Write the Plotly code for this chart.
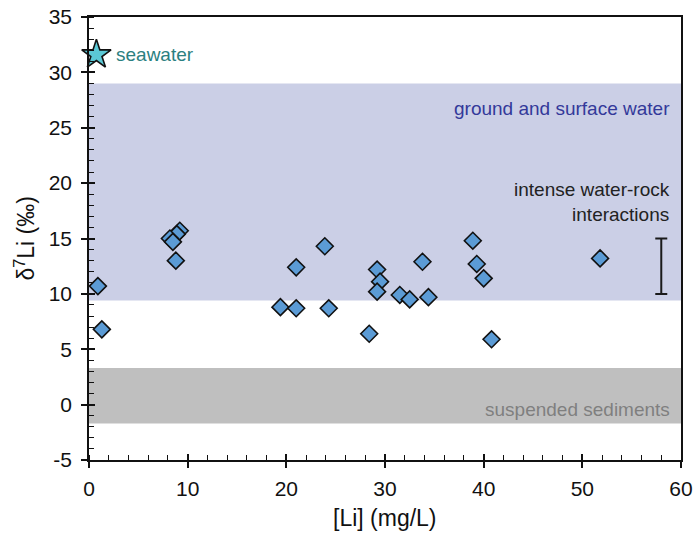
import plotly.graph_objects as go

# Sample data: [Li] (mg/L) and δ7Li (‰)
li_conc = [0.9, 1.3, 9.2, 8.9, 8.2, 8.5, 8.8, 19.4, 21.0, 21.0, 23.9, 24.3,
           28.4, 29.2, 29.5, 29.2, 31.5, 32.5, 33.8, 34.4, 38.9, 39.3, 40.0,
           40.8, 51.8]
d7li = [10.7, 6.8, 15.7, 15.4, 15.0, 14.7, 13.0, 8.8, 8.7, 12.4, 14.3, 8.7,
        6.4, 12.2, 11.1, 10.2, 9.9, 9.5, 12.9, 9.7, 14.8, 12.7, 11.4,
        5.9, 13.2]

# Seawater reference
seawater_x = [0.75]
seawater_y = [31.6]

# Reference ranges (δ7Li)
ground_surface_range = [9.4, 29.0]
suspended_range = [-1.7, 3.3]

# Intense water-rock interactions range
wr_x = [58]
wr_range = [10.0, 15.0]

x_range = [0, 60]
y_range = [-5, 35]
x_tick_vals = [0, 10, 20, 30, 40, 50, 60]
x_tick_text = ["0", "10", "20", "30", "40", "50", "60"]
y_tick_vals = [-5, 0, 5, 10, 15, 20, 25, 30, 35]
y_tick_text = ["-5", "0", "5", "10", "15", "20", "25", "30", "35"]

FONT = "Liberation Sans, Arial, sans-serif"
TICK_SIZE = 21
TITLE_SIZE = 23
ANN_SIZE = 19

fig = go.Figure()

fig.add_shape(type="rect", xref="x", yref="y", x0=x_range[0], x1=x_range[1],
              y0=ground_surface_range[0], y1=ground_surface_range[1],
              fillcolor="#CBCFE6", line_width=0, layer="below")
fig.add_shape(type="rect", xref="x", yref="y", x0=x_range[0], x1=x_range[1],
              y0=suspended_range[0], y1=suspended_range[1],
              fillcolor="#BFBFBF", line_width=0, layer="below")

wr_mid = [(wr_range[0] + wr_range[1]) / 2]
wr_half = [(wr_range[1] - wr_range[0]) / 2]
fig.add_trace(go.Scatter(
    x=wr_x, y=wr_mid, mode="markers",
    marker=dict(size=1, color="rgba(0,0,0,0)"),
    error_y=dict(type="data", array=wr_half, visible=True,
                 color="#1a1a1a", thickness=2, width=6),
    showlegend=False, hoverinfo="skip"))

fig.add_trace(go.Scatter(
    x=li_conc, y=d7li, mode="markers",
    marker=dict(symbol="diamond", size=13, color="#5B9BD5",
                line=dict(color="#111111", width=1.6)),
    cliponaxis=False, showlegend=False))

fig.add_trace(go.Scatter(
    x=seawater_x, y=seawater_y, mode="markers",
    marker=dict(symbol="star", size=22, color="#5BC8D5",
                line=dict(color="#111111", width=1.6)),
    cliponaxis=False, showlegend=False))

fig.add_annotation(x=seawater_x[0] + 1.8, y=seawater_y[0], xref="x", yref="y",
                   text="seawater", showarrow=False, xanchor="left",
                   font=dict(family=FONT, size=ANN_SIZE, color="#2B8080"))
fig.add_annotation(x=0.985, y=26.7, xref="paper", yref="y",
                   text="ground and surface water", showarrow=False,
                   xanchor="right", font=dict(family=FONT, size=ANN_SIZE, color="#33399A"))
fig.add_annotation(x=0.985, y=-0.4, xref="paper", yref="y",
                   text="suspended sediments", showarrow=False,
                   xanchor="right", font=dict(family=FONT, size=ANN_SIZE, color="#7F7F7F"))
fig.add_annotation(x=0.985, y=18.3, xref="paper", yref="y",
                   text="intense water-rock<br>interactions", showarrow=False,
                   xanchor="right", align="right",
                   font=dict(family=FONT, size=ANN_SIZE, color="#222222"))

# axis titles
fig.add_annotation(x=0.5, y=0, xref="paper", yref="paper", yshift=-58,
                   text="[Li] (mg/L)", showarrow=False, yanchor="middle",
                   font=dict(family=FONT, size=TITLE_SIZE, color="#111111"))
fig.add_annotation(x=0, y=0.5, xref="paper", yref="paper", xshift=-65,
                   text="δ<sup>7</sup>Li (‰)", showarrow=False, textangle=-90,
                   xanchor="center", yanchor="middle",
                   font=dict(family=FONT, size=TITLE_SIZE, color="#111111"))

axis_common = dict(showgrid=False, zeroline=False, showline=True,
                   linecolor="#111111", linewidth=1.6, mirror=True,
                   ticks="outside", ticklen=6, tickwidth=1.6, tickcolor="#111111",
                   automargin=False, ticklabeloverflow="allow",
                   tickfont=dict(family=FONT, size=TICK_SIZE, color="#111111"))

fig.update_layout(
    width=694, height=533,
    margin=dict(l=89, r=13, t=17, b=73),
    plot_bgcolor="white", paper_bgcolor="white",
    font=dict(family=FONT, color="#111111"),
    xaxis=dict(range=x_range, tickmode="array", tickvals=x_tick_vals, ticktext=x_tick_text,
               ticklabelstandoff=3,
               minor=dict(dtick=2, tick0=0, ticks="inside", ticklen=5, tickwidth=1.4,
                          tickcolor="#111111"),
               **axis_common),
    yaxis=dict(range=y_range, tickmode="array", tickvals=y_tick_vals, ticktext=y_tick_text,
               ticklabelstandoff=5,
               minor=dict(dtick=1, tick0=0, ticks="inside", ticklen=5, tickwidth=1.4,
                          tickcolor="#111111"),
               **axis_common),
    xaxis2=dict(range=x_range, tickmode="array", tickvals=x_tick_vals, overlaying="x", anchor="y",
                showline=False, showgrid=False, zeroline=False, automargin=False,
                ticks="inside", ticklen=6, tickwidth=1.6, tickcolor="#111111",
                showticklabels=False, side="bottom"),
    yaxis2=dict(range=y_range, tickmode="array", tickvals=y_tick_vals, overlaying="y", anchor="x",
                showline=False, showgrid=False, zeroline=False, automargin=False,
                ticks="inside", ticklen=6, tickwidth=1.6, tickcolor="#111111",
                showticklabels=False, side="left"),
)

# invisible trace to activate overlay axes
fig.add_trace(go.Scatter(x=[None], y=[None], xaxis="x2", yaxis="y2",
                         showlegend=False, hoverinfo="skip"))

fig.write_html("out.html", config={"displayModeBar": False},
               post_script="document.body.style.margin='0';")
